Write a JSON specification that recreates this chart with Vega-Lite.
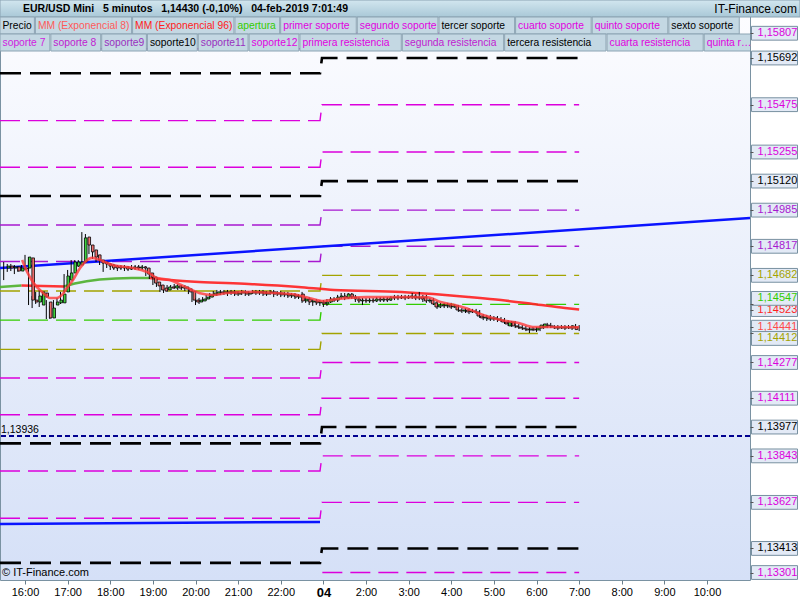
{
"$schema":"https://vega.github.io/schema/vega-lite/v6.json",
"width":750,"height":580,
"autosize":{"type":"none"},
"padding":{"left":0,"top":0,"right":50,"bottom":20},
"background":"#ffffff",
"config":{"view":{"stroke":"#7a92a2","fill":{"gradient":"linear","x1":0,"y1":0,"x2":0,"y2":1,"stops":[{"offset":0,"color":"#fdfdff"},{"offset":1,"color":"#d5e0f7"}]}},"text":{"font":"Liberation Sans"},"axis":{"labelFont":"Liberation Sans"}},
"datasets":{
"velas":[
{"t":-6,"o":1.14716,"h":1.14744,"l":1.14660,"c":1.14725},{"t":-5,"o":1.14725,"h":1.14735,"l":1.14698,"c":1.14716},{"t":-4,"o":1.14716,"h":1.14735,"l":1.14702,"c":1.14721},{"t":-3,"o":1.14721,"h":1.14730,"l":1.14688,"c":1.14702},{"t":-2,"o":1.14702,"h":1.14725,"l":1.14698,"c":1.14716},{"t":-1,"o":1.14716,"h":1.14730,"l":1.14707,"c":1.14711},
{"t":0,"o":1.14716,"h":1.14777,"l":1.14707,"c":1.14767},{"t":1,"o":1.14763,"h":1.14767,"l":1.14544,"c":1.14567},{"t":2,"o":1.14567,"h":1.14586,"l":1.14530,"c":1.14558},{"t":3,"o":1.14558,"h":1.14605,"l":1.14549,"c":1.14586},{"t":4,"o":1.14544,"h":1.14614,"l":1.14535,"c":1.14605},{"t":5,"o":1.14600,"h":1.14605,"l":1.14567,"c":1.14581},{"t":6,"o":1.14558,"h":1.14567,"l":1.14479,"c":1.14484},{"t":7,"o":1.14484,"h":1.14540,"l":1.14479,"c":1.14530},{"t":8,"o":1.14544,"h":1.14567,"l":1.14530,"c":1.14558},{"t":9,"o":1.14554,"h":1.14577,"l":1.14544,"c":1.14567},
{"t":10,"o":1.14554,"h":1.14605,"l":1.14549,"c":1.14595},{"t":11,"o":1.14605,"h":1.14688,"l":1.14600,"c":1.14679},{"t":12,"o":1.14660,"h":1.14707,"l":1.14656,"c":1.14693},{"t":13,"o":1.14693,"h":1.14753,"l":1.14684,"c":1.14744},{"t":14,"o":1.14725,"h":1.14753,"l":1.14716,"c":1.14744},{"t":15,"o":1.14730,"h":1.14753,"l":1.14721,"c":1.14744},{"t":16,"o":1.14744,"h":1.14883,"l":1.14739,"c":1.14856},{"t":17,"o":1.14860,"h":1.14874,"l":1.14814,"c":1.14823},{"t":18,"o":1.14823,"h":1.14828,"l":1.14781,"c":1.14791},{"t":19,"o":1.14800,"h":1.14804,"l":1.14758,"c":1.14767},
{"t":20,"o":1.14777,"h":1.14781,"l":1.14744,"c":1.14753},{"t":21,"o":1.14753,"h":1.14763,"l":1.14730,"c":1.14739},{"t":22,"o":1.14744,"h":1.14753,"l":1.14698,"c":1.14735},{"t":23,"o":1.14735,"h":1.14744,"l":1.14716,"c":1.14725},{"t":24,"o":1.14730,"h":1.14739,"l":1.14707,"c":1.14716},{"t":25,"o":1.14725,"h":1.14735,"l":1.14707,"c":1.14716},{"t":26,"o":1.14721,"h":1.14730,"l":1.14702,"c":1.14716},{"t":27,"o":1.14716,"h":1.14730,"l":1.14707,"c":1.14721},{"t":28,"o":1.14721,"h":1.14730,"l":1.14702,"c":1.14711},{"t":29,"o":1.14711,"h":1.14725,"l":1.14702,"c":1.14716},
{"t":30,"o":1.14716,"h":1.14730,"l":1.14707,"c":1.14721},{"t":31,"o":1.14721,"h":1.14730,"l":1.14707,"c":1.14716},{"t":32,"o":1.14716,"h":1.14730,"l":1.14707,"c":1.14721},{"t":33,"o":1.14721,"h":1.14730,"l":1.14707,"c":1.14716},{"t":34,"o":1.14716,"h":1.14725,"l":1.14679,"c":1.14688},{"t":35,"o":1.14693,"h":1.14702,"l":1.14665,"c":1.14674},{"t":36,"o":1.14674,"h":1.14684,"l":1.14637,"c":1.14646},{"t":37,"o":1.14651,"h":1.14660,"l":1.14628,"c":1.14633},{"t":38,"o":1.14637,"h":1.14642,"l":1.14605,"c":1.14614},{"t":39,"o":1.14623,"h":1.14633,"l":1.14600,"c":1.14609},
{"t":40,"o":1.14614,"h":1.14637,"l":1.14605,"c":1.14628},{"t":41,"o":1.14628,"h":1.14637,"l":1.14614,"c":1.14623},{"t":42,"o":1.14623,"h":1.14642,"l":1.14619,"c":1.14633},{"t":43,"o":1.14633,"h":1.14642,"l":1.14614,"c":1.14623},{"t":44,"o":1.14623,"h":1.14637,"l":1.14614,"c":1.14628},{"t":45,"o":1.14628,"h":1.14637,"l":1.14609,"c":1.14619},{"t":46,"o":1.14619,"h":1.14628,"l":1.14595,"c":1.14605},{"t":47,"o":1.14609,"h":1.14614,"l":1.14558,"c":1.14567},{"t":48,"o":1.14567,"h":1.14577,"l":1.14544,"c":1.14558},{"t":49,"o":1.14558,"h":1.14577,"l":1.14549,"c":1.14567},
{"t":50,"o":1.14563,"h":1.14581,"l":1.14558,"c":1.14572},{"t":51,"o":1.14572,"h":1.14591,"l":1.14567,"c":1.14581},{"t":52,"o":1.14581,"h":1.14600,"l":1.14572,"c":1.14591},{"t":53,"o":1.14591,"h":1.14609,"l":1.14581,"c":1.14600},{"t":54,"o":1.14595,"h":1.14614,"l":1.14586,"c":1.14605},{"t":55,"o":1.14605,"h":1.14614,"l":1.14591,"c":1.14600},{"t":56,"o":1.14600,"h":1.14614,"l":1.14591,"c":1.14605},{"t":57,"o":1.14605,"h":1.14614,"l":1.14586,"c":1.14600},{"t":58,"o":1.14600,"h":1.14614,"l":1.14591,"c":1.14605},{"t":59,"o":1.14605,"h":1.14614,"l":1.14586,"c":1.14595},
{"t":60,"o":1.14595,"h":1.14609,"l":1.14586,"c":1.14600},{"t":61,"o":1.14600,"h":1.14614,"l":1.14591,"c":1.14605},{"t":62,"o":1.14605,"h":1.14614,"l":1.14586,"c":1.14595},{"t":63,"o":1.14595,"h":1.14609,"l":1.14586,"c":1.14600},{"t":64,"o":1.14600,"h":1.14614,"l":1.14595,"c":1.14605},{"t":65,"o":1.14605,"h":1.14614,"l":1.14591,"c":1.14600},{"t":66,"o":1.14600,"h":1.14614,"l":1.14591,"c":1.14605},{"t":67,"o":1.14605,"h":1.14614,"l":1.14586,"c":1.14595},{"t":68,"o":1.14595,"h":1.14609,"l":1.14586,"c":1.14600},{"t":69,"o":1.14600,"h":1.14614,"l":1.14591,"c":1.14605},
{"t":70,"o":1.14605,"h":1.14614,"l":1.14581,"c":1.14595},{"t":71,"o":1.14595,"h":1.14609,"l":1.14586,"c":1.14600},{"t":72,"o":1.14600,"h":1.14609,"l":1.14581,"c":1.14591},{"t":73,"o":1.14591,"h":1.14605,"l":1.14581,"c":1.14595},{"t":74,"o":1.14595,"h":1.14605,"l":1.14577,"c":1.14586},{"t":75,"o":1.14586,"h":1.14600,"l":1.14577,"c":1.14591},{"t":76,"o":1.14591,"h":1.14600,"l":1.14572,"c":1.14581},{"t":77,"o":1.14581,"h":1.14595,"l":1.14572,"c":1.14586},{"t":78,"o":1.14595,"h":1.14605,"l":1.14554,"c":1.14563},{"t":79,"o":1.14563,"h":1.14581,"l":1.14554,"c":1.14572},
{"t":80,"o":1.14572,"h":1.14581,"l":1.14544,"c":1.14558},{"t":81,"o":1.14558,"h":1.14572,"l":1.14540,"c":1.14563},{"t":82,"o":1.14563,"h":1.14572,"l":1.14544,"c":1.14554},{"t":83,"o":1.14554,"h":1.14567,"l":1.14540,"c":1.14558},{"t":84,"o":1.14558,"h":1.14567,"l":1.14535,"c":1.14549},{"t":85,"o":1.14549,"h":1.14572,"l":1.14540,"c":1.14558},{"t":86,"o":1.14558,"h":1.14581,"l":1.14554,"c":1.14572},{"t":87,"o":1.14572,"h":1.14581,"l":1.14558,"c":1.14567},{"t":88,"o":1.14567,"h":1.14591,"l":1.14558,"c":1.14581},{"t":89,"o":1.14581,"h":1.14600,"l":1.14572,"c":1.14586},
{"t":90,"o":1.14586,"h":1.14600,"l":1.14567,"c":1.14577},{"t":91,"o":1.14577,"h":1.14600,"l":1.14572,"c":1.14595},{"t":92,"o":1.14595,"h":1.14600,"l":1.14572,"c":1.14581},{"t":93,"o":1.14581,"h":1.14591,"l":1.14558,"c":1.14572},{"t":94,"o":1.14572,"h":1.14581,"l":1.14554,"c":1.14563},{"t":95,"o":1.14563,"h":1.14577,"l":1.14544,"c":1.14567},{"t":96,"o":1.14567,"h":1.14577,"l":1.14554,"c":1.14563},{"t":97,"o":1.14563,"h":1.14577,"l":1.14554,"c":1.14567},{"t":98,"o":1.14567,"h":1.14577,"l":1.14554,"c":1.14563},{"t":99,"o":1.14563,"h":1.14581,"l":1.14558,"c":1.14572},
{"t":100,"o":1.14572,"h":1.14581,"l":1.14558,"c":1.14567},{"t":101,"o":1.14567,"h":1.14581,"l":1.14558,"c":1.14572},{"t":102,"o":1.14572,"h":1.14581,"l":1.14558,"c":1.14567},{"t":103,"o":1.14567,"h":1.14586,"l":1.14563,"c":1.14577},{"t":104,"o":1.14577,"h":1.14591,"l":1.14567,"c":1.14581},{"t":105,"o":1.14581,"h":1.14591,"l":1.14567,"c":1.14577},{"t":106,"o":1.14577,"h":1.14591,"l":1.14572,"c":1.14581},{"t":107,"o":1.14581,"h":1.14591,"l":1.14567,"c":1.14577},{"t":108,"o":1.14577,"h":1.14591,"l":1.14572,"c":1.14581},{"t":109,"o":1.14581,"h":1.14600,"l":1.14572,"c":1.14586},
{"t":110,"o":1.14586,"h":1.14595,"l":1.14567,"c":1.14577},{"t":111,"o":1.14577,"h":1.14605,"l":1.14567,"c":1.14581},{"t":112,"o":1.14581,"h":1.14591,"l":1.14558,"c":1.14572},{"t":113,"o":1.14581,"h":1.14591,"l":1.14554,"c":1.14563},{"t":114,"o":1.14563,"h":1.14577,"l":1.14554,"c":1.14567},{"t":115,"o":1.14567,"h":1.14577,"l":1.14544,"c":1.14549},{"t":116,"o":1.14554,"h":1.14563,"l":1.14526,"c":1.14535},{"t":117,"o":1.14535,"h":1.14554,"l":1.14530,"c":1.14544},{"t":118,"o":1.14544,"h":1.14554,"l":1.14530,"c":1.14540},{"t":119,"o":1.14540,"h":1.14554,"l":1.14530,"c":1.14544},
{"t":120,"o":1.14544,"h":1.14554,"l":1.14526,"c":1.14535},{"t":121,"o":1.14535,"h":1.14549,"l":1.14530,"c":1.14540},{"t":122,"o":1.14540,"h":1.14544,"l":1.14512,"c":1.14521},{"t":123,"o":1.14521,"h":1.14530,"l":1.14507,"c":1.14516},{"t":124,"o":1.14516,"h":1.14530,"l":1.14507,"c":1.14521},{"t":125,"o":1.14521,"h":1.14530,"l":1.14502,"c":1.14512},{"t":126,"o":1.14512,"h":1.14526,"l":1.14507,"c":1.14516},{"t":127,"o":1.14516,"h":1.14526,"l":1.14502,"c":1.14512},{"t":128,"o":1.14512,"h":1.14521,"l":1.14484,"c":1.14493},{"t":129,"o":1.14493,"h":1.14502,"l":1.14474,"c":1.14484},
{"t":130,"o":1.14484,"h":1.14498,"l":1.14470,"c":1.14488},{"t":131,"o":1.14488,"h":1.14498,"l":1.14470,"c":1.14479},{"t":132,"o":1.14479,"h":1.14493,"l":1.14470,"c":1.14484},{"t":133,"o":1.14484,"h":1.14493,"l":1.14465,"c":1.14479},{"t":134,"o":1.14479,"h":1.14488,"l":1.14465,"c":1.14474},{"t":135,"o":1.14474,"h":1.14484,"l":1.14456,"c":1.14465},{"t":136,"o":1.14465,"h":1.14474,"l":1.14447,"c":1.14456},{"t":137,"o":1.14447,"h":1.14470,"l":1.14442,"c":1.14465},{"t":138,"o":1.14465,"h":1.14470,"l":1.14437,"c":1.14447},{"t":139,"o":1.14447,"h":1.14456,"l":1.14433,"c":1.14442},
{"t":140,"o":1.14442,"h":1.14451,"l":1.14428,"c":1.14437},{"t":141,"o":1.14437,"h":1.14447,"l":1.14423,"c":1.14433},{"t":142,"o":1.14433,"h":1.14442,"l":1.14414,"c":1.14428},{"t":143,"o":1.14428,"h":1.14442,"l":1.14423,"c":1.14433},{"t":144,"o":1.14433,"h":1.14442,"l":1.14419,"c":1.14428},{"t":145,"o":1.14428,"h":1.14447,"l":1.14423,"c":1.14437},{"t":146,"o":1.14437,"h":1.14456,"l":1.14433,"c":1.14451},{"t":147,"o":1.14442,"h":1.14461,"l":1.14437,"c":1.14456},{"t":148,"o":1.14451,"h":1.14461,"l":1.14437,"c":1.14447},{"t":149,"o":1.14447,"h":1.14451,"l":1.14433,"c":1.14442},
{"t":150,"o":1.14442,"h":1.14451,"l":1.14428,"c":1.14437},{"t":151,"o":1.14437,"h":1.14451,"l":1.14433,"c":1.14442},{"t":152,"o":1.14442,"h":1.14451,"l":1.14428,"c":1.14437},{"t":153,"o":1.14437,"h":1.14451,"l":1.14433,"c":1.14442},{"t":154,"o":1.14442,"h":1.14451,"l":1.14428,"c":1.14437},{"t":155,"o":1.14437,"h":1.14456,"l":1.14433,"c":1.14447},{"t":156,"o":1.14442,"h":1.14451,"l":1.14423,"c":1.14430}
],
"niveles":[
{"n":"1","g":"nivel","t":-7.04,"p":1.15735},{"n":"1","g":"nivel","t":83.05,"p":1.15735},{"n":"1","g":"nivel","t":83.6,"p":1.15807},{"n":"1","g":"nivel","t":156,"p":1.15807},
{"n":"2","g":"pivote","t":-7.04,"p":1.15621},{"n":"2","g":"pivote","t":83.05,"p":1.15621},{"n":"2","g":"pivote","t":83.6,"p":1.15692},{"n":"2","g":"pivote","t":156,"p":1.15692},
{"n":"3","g":"nivel","t":-7.04,"p":1.15401},{"n":"3","g":"nivel","t":83.05,"p":1.15401},{"n":"3","g":"nivel","t":83.6,"p":1.15475},{"n":"3","g":"nivel","t":156,"p":1.15475},
{"n":"4","g":"nivel","t":-7.04,"p":1.15184},{"n":"4","g":"nivel","t":83.05,"p":1.15184},{"n":"4","g":"nivel","t":83.6,"p":1.15255},{"n":"4","g":"nivel","t":156,"p":1.15255},
{"n":"5","g":"pivote","t":-7.04,"p":1.15051},{"n":"5","g":"pivote","t":83.05,"p":1.15051},{"n":"5","g":"pivote","t":83.6,"p":1.15120},{"n":"5","g":"pivote","t":156,"p":1.15120},
{"n":"6","g":"intermedio","t":-7.04,"p":1.14916},{"n":"6","g":"intermedio","t":83.05,"p":1.14916},{"n":"6","g":"intermedio","t":83.6,"p":1.14985},{"n":"6","g":"intermedio","t":156,"p":1.14985},
{"n":"7","g":"intermedio","t":-7.04,"p":1.14746},{"n":"7","g":"intermedio","t":83.05,"p":1.14746},{"n":"7","g":"intermedio","t":83.6,"p":1.14817},{"n":"7","g":"intermedio","t":156,"p":1.14817},
{"n":"8","g":"rango","t":-7.04,"p":1.14609},{"n":"8","g":"rango","t":83.05,"p":1.14609},{"n":"8","g":"rango","t":83.6,"p":1.14682},{"n":"8","g":"rango","t":156,"p":1.14682},
{"n":"9","g":"apertura","t":-7.04,"p":1.14474},{"n":"9","g":"apertura","t":83.05,"p":1.14474},{"n":"9","g":"apertura","t":83.6,"p":1.14547},{"n":"9","g":"apertura","t":156,"p":1.14547},
{"n":"10","g":"rango","t":-7.04,"p":1.14338},{"n":"10","g":"rango","t":83.05,"p":1.14338},{"n":"10","g":"rango","t":83.6,"p":1.14412},{"n":"10","g":"rango","t":156,"p":1.14412},
{"n":"11","g":"nivel","t":-7.04,"p":1.14205},{"n":"11","g":"nivel","t":83.05,"p":1.14205},{"n":"11","g":"nivel","t":83.6,"p":1.14277},{"n":"11","g":"nivel","t":156,"p":1.14277},
{"n":"12","g":"nivel","t":-7.04,"p":1.14034},{"n":"12","g":"nivel","t":83.05,"p":1.14034},{"n":"12","g":"nivel","t":83.6,"p":1.14111},{"n":"12","g":"nivel","t":156,"p":1.14111},
{"n":"13","g":"pivote","t":-7.04,"p":1.13901},{"n":"13","g":"pivote","t":83.05,"p":1.13901},{"n":"13","g":"pivote","t":83.6,"p":1.13977},{"n":"13","g":"pivote","t":156,"p":1.13977},
{"n":"14","g":"nivel","t":-7.04,"p":1.13773},{"n":"14","g":"nivel","t":83.05,"p":1.13773},{"n":"14","g":"nivel","t":83.6,"p":1.13843},{"n":"14","g":"nivel","t":156,"p":1.13843},
{"n":"15","g":"nivel","t":-7.04,"p":1.13553},{"n":"15","g":"nivel","t":83.05,"p":1.13553},{"n":"15","g":"nivel","t":83.6,"p":1.13627},{"n":"15","g":"nivel","t":156,"p":1.13627},
{"n":"16","g":"pivote","t":-7.04,"p":1.13346},{"n":"16","g":"pivote","t":83.05,"p":1.13346},{"n":"16","g":"pivote","t":83.6,"p":1.13413},{"n":"16","g":"pivote","t":156,"p":1.13413},
{"n":"17","g":"nivel","t":-7.04,"p":1.13229},{"n":"17","g":"nivel","t":83.05,"p":1.13229},{"n":"17","g":"nivel","t":83.6,"p":1.13301},{"n":"17","g":"nivel","t":156,"p":1.13301}
],
"ema8":[
{"t":-0.8,"p":1.14753},{"t":0.6,"p":1.14698},{"t":2.2,"p":1.14651},{"t":5.1,"p":1.14600},{"t":7,"p":1.14577},{"t":9,"p":1.14577},{"t":10.4,"p":1.14591},{"t":11.8,"p":1.14623},{"t":13.5,"p":1.14660},{"t":15.5,"p":1.14716},{"t":16.9,"p":1.14744},{"t":18.9,"p":1.14763},{"t":21.1,"p":1.14753},{"t":24.8,"p":1.14730},{"t":30.4,"p":1.14716},{"t":34.3,"p":1.14698},{"t":37.2,"p":1.14670},{"t":40.8,"p":1.14660},{"t":44,"p":1.14637},{"t":47,"p":1.14614},{"t":49,"p":1.14600},{"t":53,"p":1.14591},{"t":57,"p":1.14600},{"t":64,"p":1.14605},{"t":70,"p":1.14600},{"t":75,"p":1.14595},{"t":80,"p":1.14577},{"t":84,"p":1.14563},{"t":88,"p":1.14572},{"t":96,"p":1.14581},{"t":105,"p":1.14581},{"t":113,"p":1.14581},{"t":117,"p":1.14558},{"t":121,"p":1.14544},{"t":124,"p":1.14530},{"t":129,"p":1.14498},{"t":134,"p":1.14474},{"t":139,"p":1.14461},{"t":143,"p":1.14442},{"t":148,"p":1.14442},{"t":156,"p":1.14441}
],
"ema96":[
{"s":"A","g":"sube","t":-7.04,"p":1.14628},{"s":"A","g":"sube","t":-1,"p":1.14635},
{"s":"B","g":"baja","t":-1,"p":1.14635},{"s":"B","g":"baja","t":5,"p":1.14633},{"s":"B","g":"baja","t":11,"p":1.14630},
{"s":"C","g":"sube","t":11,"p":1.14630},{"s":"C","g":"sube","t":14,"p":1.14644},{"s":"C","g":"sube","t":21,"p":1.14663},{"s":"C","g":"sube","t":30,"p":1.14670},{"s":"C","g":"sube","t":35,"p":1.14670},
{"s":"D","g":"baja","t":35,"p":1.14670},{"s":"D","g":"baja","t":41,"p":1.14660},{"s":"D","g":"baja","t":49,"p":1.14651},{"s":"D","g":"baja","t":63,"p":1.14642},{"s":"D","g":"baja","t":77,"p":1.14628},{"s":"D","g":"baja","t":87,"p":1.14614},{"s":"D","g":"baja","t":106,"p":1.14605},{"s":"D","g":"baja","t":115,"p":1.14595},{"s":"D","g":"baja","t":125,"p":1.14581},{"s":"D","g":"baja","t":134,"p":1.14567},{"s":"D","g":"baja","t":143,"p":1.14549},{"s":"D","g":"baja","t":152,"p":1.14530},{"s":"D","g":"baja","t":156,"p":1.14523}
],
"azul":[
{"n":"sup","t":-7.04,"p":1.14716},{"n":"sup","t":204.1,"p":1.14948},{"n":"inf","t":-7.04,"p":1.13527},{"n":"inf","t":83.05,"p":1.13536}
],
"punteada":[{"p":1.13936}],
"tags":[
{"v":1.15807,"g":"nivel"},{"v":1.15692,"g":"pivote"},{"v":1.15475,"g":"nivel"},{"v":1.15255,"g":"nivel"},{"v":1.15120,"g":"pivote"},{"v":1.14985,"g":"intermedio"},{"v":1.14817,"g":"intermedio"},{"v":1.14682,"g":"rango"},{"v":1.14547,"g":"apertura"},{"v":1.14523,"g":"baja"},{"v":1.14441,"g":"rapida"},{"v":1.14412,"g":"rango"},{"v":1.14277,"g":"nivel"},{"v":1.14111,"g":"nivel"},{"v":1.13977,"g":"pivote"},{"v":1.13843,"g":"nivel"},{"v":1.13627,"g":"nivel"},{"v":1.13413,"g":"pivote"},{"v":1.13301,"g":"nivel"}
],
"leyenda":[
{"fila":"1","ord":1,"label":"Precio"},{"fila":"1","ord":2,"label":"MM (Exponencial 8)"},{"fila":"1","ord":3,"label":"MM (Exponencial 96)"},{"fila":"1","ord":4,"label":"apertura"},{"fila":"1","ord":5,"label":"primer soporte"},{"fila":"1","ord":6,"label":"segundo soporte"},{"fila":"1","ord":7,"label":"tercer soporte"},{"fila":"1","ord":8,"label":"cuarto soporte"},{"fila":"1","ord":9,"label":"quinto soporte"},{"fila":"1","ord":10,"label":"sexto soporte"},
{"fila":"2","ord":1,"label":"soporte 7"},{"fila":"2","ord":2,"label":"soporte 8"},{"fila":"2","ord":3,"label":"soporte9"},{"fila":"2","ord":4,"label":"soporte10"},{"fila":"2","ord":5,"label":"soporte11"},{"fila":"2","ord":6,"label":"soporte12"},{"fila":"2","ord":7,"label":"primera resistencia"},{"fila":"2","ord":8,"label":"segunda resistencia"},{"fila":"2","ord":9,"label":"tercera resistencia"},{"fila":"2","ord":10,"label":"cuarta resistencia"},{"fila":"2","ord":11,"label":"quinta resistencia"}
],
"cabecera":[{"fila":"h"}]
},
"layer":[
{"data":{"name":"velas"},"mark":{"type":"rule","color":"#000000","strokeWidth":1,"opacity":0},
 "encoding":{
  "x":{"field":"t","type":"quantitative","scale":{"domain":[-7.04,204.1],"nice":false,"zero":false},"title":null,
   "axis":{"orient":"bottom","zindex":1,"values":[0,12,24,36,48,60,72,84,96,108,120,132,144,156,168,180,192],"labelExpr":"datum.value == 84 ? '04' : (datum.value < 84 ? (16 + datum.value/12) + ':00' : (datum.value/12 - 6) + ':00')","grid":false,"domain":false,"tickSize":4,"tickColor":"#6a7f8c","labelColor":"#000000","labelFontSize":{"condition":{"test":"datum.value == 84","value":13},"value":11},"labelFontWeight":{"condition":{"test":"datum.value == 84","value":"bold"},"value":"normal"},"labelPadding":2,"labelOverlap":false,"labelFlush":false}},
  "y":{"field":"c","type":"quantitative","scale":{"domain":[1.132663,1.159615],"nice":false,"zero":false},"title":null,
   "axis":{"orient":"right","zindex":1,"values":[1.15807,1.15692,1.15475,1.15255,1.1512,1.14985,1.14817,1.14682,1.14547,1.14523,1.14441,1.14412,1.14277,1.14111,1.13977,1.13843,1.13627,1.13413,1.13301],"labels":false,"tickSize":3,"tickColor":"#555555","domain":false,"grid":false}}
 }},
{"data":{"name":"niveles"},"transform":[{"filter":"datum.g != 'pivote'"}],"mark":{"type":"line","strokeCap":"butt","strokeWidth":1.4,"strokeDash":[20,8],"clip":true},
 "encoding":{
  "x":{"field":"t","type":"quantitative","scale":{"domain":[-7.04,204.1],"nice":false,"zero":false},"title":null,"axis":null},
  "y":{"field":"p","type":"quantitative","scale":{"domain":[1.132663,1.159615],"nice":false,"zero":false},"title":null,"axis":null},
  "detail":{"field":"n","type":"nominal"},
  "color":{"field":"g","type":"nominal","legend":null,"scale":{"domain":["pivote","nivel","intermedio","rango","apertura","sube","baja","rapida"],"range":["#000000","#dc00dc","#a818d0","#a3a300","#33cc00","#4caf2a","#ff1f1f","#ff4a4a"]}}
 }},
{"data":{"name":"niveles"},"transform":[{"filter":"datum.g == 'pivote'"}],"mark":{"type":"line","strokeCap":"butt","strokeWidth":2.6,"strokeDash":[21,9],"color":"#000000","clip":true},
 "encoding":{
  "x":{"field":"t","type":"quantitative","scale":{"domain":[-7.04,204.1],"nice":false,"zero":false},"title":null,"axis":null},
  "y":{"field":"p","type":"quantitative","scale":{"domain":[1.132663,1.159615],"nice":false,"zero":false},"title":null,"axis":null},
  "detail":{"field":"n","type":"nominal"}
 }},
{"data":{"name":"punteada"},"mark":{"type":"rule","color":"#000090","strokeWidth":2,"strokeDash":[5,3]},
 "encoding":{"y":{"field":"p","type":"quantitative","scale":{"domain":[1.132663,1.159615],"nice":false,"zero":false},"title":null,"axis":null}}},
{"data":{"name":"punteada"},"transform":[{"calculate":"replace(format(datum.p, '.5f'), '.', ',')","as":"lab"}],
 "mark":{"type":"text","align":"left","baseline":"bottom","dx":1,"dy":-1,"fontSize":10.5,"color":"#000000"},
 "encoding":{"x":{"datum":-7.04,"type":"quantitative","scale":{"domain":[-7.04,204.1],"nice":false,"zero":false},"axis":null},
  "y":{"field":"p","type":"quantitative","scale":{"domain":[1.132663,1.159615],"nice":false,"zero":false},"title":null,"axis":null},
  "text":{"field":"lab"}}},
{"data":{"name":"azul"},"mark":{"type":"line","color":"#0a14ff","strokeWidth":2.5},
 "encoding":{"x":{"field":"t","type":"quantitative","scale":{"domain":[-7.04,204.1],"nice":false,"zero":false},"title":null,"axis":null},
  "y":{"field":"p","type":"quantitative","scale":{"domain":[1.132663,1.159615],"nice":false,"zero":false},"title":null,"axis":null},
  "detail":{"field":"n","type":"nominal"}}},
{"data":{"name":"ema96"},"mark":{"type":"line","strokeWidth":2.5,"interpolate":"monotone","opacity":0.9},
 "encoding":{"x":{"field":"t","type":"quantitative","scale":{"domain":[-7.04,204.1],"nice":false,"zero":false},"title":null,"axis":null},
  "y":{"field":"p","type":"quantitative","scale":{"domain":[1.132663,1.159615],"nice":false,"zero":false},"title":null,"axis":null},
  "detail":{"field":"s","type":"nominal"},
  "color":{"field":"g","type":"nominal","legend":null,"scale":{"domain":["pivote","nivel","intermedio","rango","apertura","sube","baja","rapida"],"range":["#000000","#dc00dc","#a818d0","#a3a300","#33cc00","#4caf2a","#ff1f1f","#ff4a4a"]}}}},
{"data":{"name":"velas"},"mark":{"type":"rule","color":"#000000","strokeWidth":1},
 "encoding":{"x":{"field":"t","type":"quantitative","scale":{"domain":[-7.04,204.1],"nice":false,"zero":false},"title":null,"axis":null},
  "y":{"field":"l","type":"quantitative","scale":{"domain":[1.132663,1.159615],"nice":false,"zero":false},"title":null,"axis":null},
  "y2":{"field":"h"}}},
{"data":{"name":"velas"},"mark":{"type":"bar","width":2.6,"stroke":"#000000","strokeWidth":0.8},
 "encoding":{"x":{"field":"t","type":"quantitative","scale":{"domain":[-7.04,204.1],"nice":false,"zero":false},"title":null,"axis":null},
  "y":{"field":"o","type":"quantitative","scale":{"domain":[1.132663,1.159615],"nice":false,"zero":false},"title":null,"axis":null},
  "y2":{"field":"c"},
  "fill":{"condition":{"test":"datum.c >= datum.o","value":"#3fd03f"},"value":"#ee7070"}}},
{"data":{"name":"ema8"},"mark":{"type":"line","color":"#ff3a3a","strokeWidth":2.6,"interpolate":"monotone","opacity":0.8},
 "encoding":{"x":{"field":"t","type":"quantitative","scale":{"domain":[-7.04,204.1],"nice":false,"zero":false},"title":null,"axis":null},
  "y":{"field":"p","type":"quantitative","scale":{"domain":[1.132663,1.159615],"nice":false,"zero":false},"title":null,"axis":null}}},
{"data":{"name":"tags"},
 "transform":[{"calculate":"replace(format(datum.v, '.5f'), '.', ',')","as":"lab"},{"filter":"datum.v != 1.14547 && datum.v != 1.14412"}],
 "encoding":{"x":{"datum":211,"type":"quantitative","scale":{"domain":[-7.04,204.1],"nice":false,"zero":false},"axis":null},
  "y":{"field":"v","type":"quantitative","scale":{"domain":[1.132663,1.159615],"nice":false,"zero":false},"title":null,"axis":null}},
 "layer":[
  {"mark":{"type":"point","shape":"M-1,-0.3H1V0.3H-1Z","size":2116,"filled":true,"fill":"#e3eaf6","stroke":"#7890a0","strokeWidth":1,"opacity":1}},
  {"mark":{"type":"text","fontSize":11,"align":"left","baseline":"middle","dx":-17},
   "encoding":{"text":{"field":"lab"},"color":{"field":"g","type":"nominal","legend":null,"scale":{"domain":["pivote","nivel","intermedio","rango","apertura","sube","baja","rapida"],"range":["#000000","#dc00dc","#a818d0","#a3a300","#33cc00","#4caf2a","#ff1f1f","#ff4a4a"]}}}}
 ]},
{"data":{"name":"tags"},
 "transform":[{"calculate":"replace(format(datum.v, '.5f'), '.', ',')","as":"lab"},{"filter":"datum.v == 1.14547"}],
 "encoding":{"x":{"datum":211,"type":"quantitative","scale":{"domain":[-7.04,204.1],"nice":false,"zero":false},"axis":null},
  "y":{"field":"v","type":"quantitative","scale":{"domain":[1.132663,1.159615],"nice":false,"zero":false},"title":null,"axis":null}},
 "layer":[
  {"mark":{"type":"point","shape":"M-1,-0.3H1V0.3H-1Z","size":2116,"filled":true,"fill":"#e3eaf6","stroke":"#7890a0","strokeWidth":1,"opacity":1,"yOffset":-6}},
  {"mark":{"type":"text","fontSize":11,"align":"left","baseline":"middle","dx":-17,"dy":-6},
   "encoding":{"text":{"field":"lab"},"color":{"field":"g","type":"nominal","legend":null,"scale":{"domain":["pivote","nivel","intermedio","rango","apertura","sube","baja","rapida"],"range":["#000000","#dc00dc","#a818d0","#a3a300","#33cc00","#4caf2a","#ff1f1f","#ff4a4a"]}}}}
 ]},
{"data":{"name":"tags"},
 "transform":[{"calculate":"replace(format(datum.v, '.5f'), '.', ',')","as":"lab"},{"filter":"datum.v == 1.14412"}],
 "encoding":{"x":{"datum":211,"type":"quantitative","scale":{"domain":[-7.04,204.1],"nice":false,"zero":false},"axis":null},
  "y":{"field":"v","type":"quantitative","scale":{"domain":[1.132663,1.159615],"nice":false,"zero":false},"title":null,"axis":null}},
 "layer":[
  {"mark":{"type":"point","shape":"M-1,-0.3H1V0.3H-1Z","size":2116,"filled":true,"fill":"#e3eaf6","stroke":"#7890a0","strokeWidth":1,"opacity":1,"yOffset":5}},
  {"mark":{"type":"text","fontSize":11,"align":"left","baseline":"middle","dx":-17,"dy":5},
   "encoding":{"text":{"field":"lab"},"color":{"field":"g","type":"nominal","legend":null,"scale":{"domain":["pivote","nivel","intermedio","rango","apertura","sube","baja","rapida"],"range":["#000000","#dc00dc","#a818d0","#a3a300","#33cc00","#4caf2a","#ff1f1f","#ff4a4a"]}}}}
 ]},
{"data":{"values":[{"txt":"© IT-Finance.com"}]},
 "mark":{"type":"text","align":"left","baseline":"bottom","dx":2,"dy":-2,"fontSize":11,"color":"#000000"},
 "encoding":{"x":{"datum":-7.04,"type":"quantitative","scale":{"domain":[-7.04,204.1],"nice":false,"zero":false},"axis":null},
  "y":{"datum":1.132663,"type":"quantitative","scale":{"domain":[1.132663,1.159615],"nice":false,"zero":false},"axis":null},
  "text":{"field":"txt"}}},
{"data":{"name":"cabecera"},"mark":{"type":"rect","stroke":"#8aa2b2","strokeWidth":1,"fill":{"gradient":"linear","x1":0,"y1":0,"x2":0,"y2":1,"stops":[{"offset":0,"color":"#d2e6ef"},{"offset":1,"color":"#a9c8d7"}]}},
 "encoding":{"x":{"datum":0,"type":"quantitative","scale":{"domain":[0,750],"nice":false,"zero":false},"axis":null},"x2":{"datum":800},
  "y":{"field":"fila","type":"nominal","scale":{"domain":["h","1","2"],"range":[0,51],"paddingInner":0,"paddingOuter":0},"axis":null}}},
{"data":{"values":[{"fila":"h","txt":"EUR/USD Mini\u00a0\u00a0\u00a05 minutos\u00a0\u00a0\u00a01,14430 (-0,10%)\u00a0\u00a0\u00a004-feb-2019 7:01:49"}]},
 "mark":{"type":"text","align":"left","baseline":"middle","dx":23,"fontSize":10.5,"fontWeight":"bold","color":"#000000"},
 "encoding":{"x":{"datum":0,"type":"quantitative","scale":{"domain":[0,750],"nice":false,"zero":false},"axis":null},
  "y":{"field":"fila","type":"nominal","scale":{"domain":["h","1","2"],"range":[0,51],"paddingInner":0,"paddingOuter":0},"axis":null},
  "text":{"field":"txt"}}},
{"data":{"values":[{"fila":"h","txt":"IT-Finance.com"}]},
 "mark":{"type":"text","align":"right","baseline":"middle","dx":47,"fontSize":12,"color":"#000000"},
 "encoding":{"x":{"datum":750,"type":"quantitative","scale":{"domain":[0,750],"nice":false,"zero":false},"axis":null},
  "y":{"field":"fila","type":"nominal","scale":{"domain":["h","1","2"],"range":[0,51],"paddingInner":0,"paddingOuter":0},"axis":null},
  "text":{"field":"txt"}}},
{"data":{"name":"leyenda"},
 "transform":[{"calculate":"5.15*length(datum.label)+4.5","as":"w"},{"window":[{"op":"sum","field":"w","as":"cum"}],"groupby":["fila"],"sort":[{"field":"ord"}],"frame":[null,0]},{"calculate":"datum.cum - datum.w","as":"x0"},{"calculate":"datum.cum - 1","as":"x1"}],
 "encoding":{"x":{"field":"x0","type":"quantitative","scale":{"domain":[0,750],"nice":false,"zero":false},"axis":null,"title":null},
  "y":{"field":"fila","type":"nominal","scale":{"domain":["h","1","2"],"range":[0,51],"paddingInner":0,"paddingOuter":0},"axis":null,"title":null},
  "color":{"field":"label","type":"nominal","legend":null,"scale":{"domain":["Precio","MM (Exponencial 8)","MM (Exponencial 96)","apertura","primer soporte","segundo soporte","tercer soporte","cuarto soporte","quinto soporte","sexto soporte","soporte 7","soporte 8","soporte9","soporte10","soporte11","soporte12","primera resistencia","segunda resistencia","tercera resistencia","cuarta resistencia","quinta resistencia"],"range":["#000000","#ff5a5a","#ff2020","#33cc00","#e000e0","#e000e0","#000000","#e000e0","#e000e0","#000000","#d020e0","#c020d0","#9a30c0","#000000","#9a30c0","#e000e0","#e000e0","#c020d0","#000000","#e000e0","#e000e0"]}}},
 "layer":[
  {"mark":{"type":"rect","fill":"#c4d8e3","stroke":"#8ca4b3","strokeWidth":1,"clip":true},"encoding":{"x2":{"field":"x1"},"color":null}},
  {"transform":[{"filter":"datum.ord < 11"}],"mark":{"type":"text","align":"left","baseline":"middle","dx":2.5,"fontSize":10.3},
   "encoding":{"text":{"field":"label"}}},
  {"transform":[{"filter":"datum.ord == 11"}],"mark":{"type":"text","align":"left","baseline":"middle","dx":2.5,"fontSize":10.3,"limit":48,"ellipsis":""},
   "encoding":{"text":{"field":"label"}}}
 ]}
],
"resolve":{"scale":{"x":"independent","y":"independent","color":"independent"}}
}
